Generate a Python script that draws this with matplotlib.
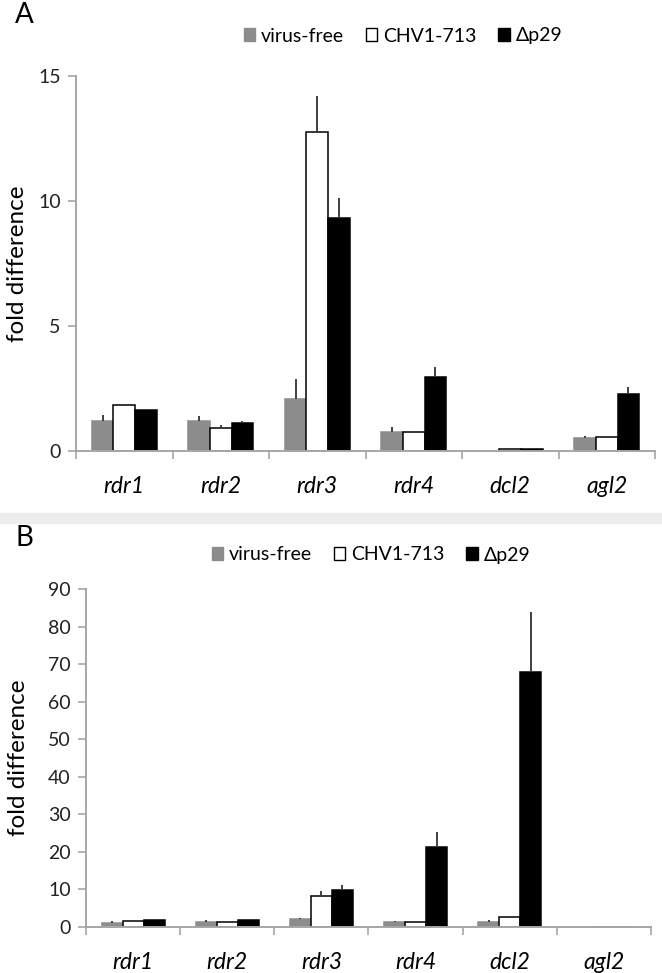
import numpy as np
import matplotlib
matplotlib.use('Agg')
import matplotlib.pyplot as plt
from matplotlib.patches import Patch

plt.rcParams['font.family'] = ['Lato', 'DejaVu Sans']

genes = ['rdr1', 'rdr2', 'rdr3', 'rdr4', 'dcl2', 'agl2']
series = ['virus-free', 'CHV1-713', 'Δp29']

# panel A
a_free = [1.19, 1.2, 2.08, 0.78, 0.0, 0.54]
a_free_err = [0.25, 0.2, 0.82, 0.19, 0.0, 0.08]
a_chv = [1.84, 0.94, 12.74, 0.75, 0.07, 0.55]
a_chv_err = [0.06, 0.12, 1.45, 0.07, 0.01, 0.0]
a_dp29 = [1.64, 1.12, 9.3, 2.98, 0.08, 2.27]
a_dp29_err = [0.06, 0.08, 0.8, 0.4, 0.01, 0.3]

# panel B
b_free = [1.0, 1.3, 1.95, 1.2, 1.3, 0.0]
b_free_err = [0.4, 0.4, 0.3, 0.4, 0.4, 0.0]
b_chv = [1.4, 1.25, 8.2, 1.2, 2.5, 0.0]
b_chv_err = [0.1, 0.1, 1.4, 0.15, 0.3, 0.0]
b_dp29 = [1.8, 1.7, 9.9, 21.3, 67.8, 0.0]
b_dp29_err = [0.1, 0.1, 1.3, 3.9, 16.0, 0.0]

fills = ['#8c8c8c', 'white', 'black']
edges = ['#8c8c8c', 'black', 'black']

fig = plt.figure(figsize=(6.62, 9.73), dpi=100)

# light gray band between the panels
fig.patches.append(plt.Rectangle((0, 1 - 523 / 973), 1, 10 / 973, transform=fig.transFigure,
                                 color='#ededed', zorder=0))


def draw_panel(ax, vals, errs, ylim, yticks):
    x = np.arange(len(genes))
    w = 0.223
    for i in range(3):
        pos = x + (i - 1) * w
        v = np.array(vals[i])
        e = np.array(errs[i])
        ax.bar(pos, v, w, color=fills[i], edgecolor=edges[i], linewidth=1.1, zorder=2)
        ax.errorbar(pos, v, yerr=[np.zeros_like(e), e], fmt='none', ecolor='#404040',
                    elinewidth=1.4, capsize=0, zorder=3)
    ax.set_xlim(-0.5, len(genes) - 0.5)
    ax.set_ylim(*ylim)
    ax.set_yticks(yticks)
    ax.set_xticks(np.arange(len(genes) + 1) - 0.5)
    ax.set_xticklabels([])
    ax.set_xticks(x, minor=True)
    ax.set_xticklabels(genes, minor=True, style='italic', fontsize=16.5)
    ax.tick_params(axis='x', which='minor', length=0, pad=18)
    ax.tick_params(axis='x', which='major', length=6, color='#a6a6a6', width=1.2)
    ax.tick_params(axis='y', length=6, color='#a6a6a6', width=1.2, labelsize=14, pad=5)
    for s in ['top', 'right']:
        ax.spines[s].set_visible(False)
    for s in ['left', 'bottom']:
        ax.spines[s].set_color('#a6a6a6')
        ax.spines[s].set_linewidth(1.4)
    ax.set_ylabel('fold difference', fontsize=17.5)
    for t in ax.get_yticklabels():
        t.set_color('#222222')


axA = fig.add_axes([76 / 662, 1 - 451 / 973, (655 - 76) / 662, (451 - 76) / 973])
draw_panel(axA, [a_free, a_chv, a_dp29], [a_free_err, a_chv_err, a_dp29_err], (0, 15), [0, 5, 10, 15])
axA.yaxis.set_label_coords(-0.083, 0.5)

axB = fig.add_axes([86 / 662, 1 - 926.7 / 973, (651 - 86) / 662, (926.7 - 589) / 973])
draw_panel(axB, [b_free, b_chv, b_dp29], [b_free_err, b_chv_err, b_dp29_err], (0, 90), list(range(0, 91, 10)))
axB.yaxis.set_label_coords(-0.1, 0.5)

handles = [Patch(facecolor=fills[i], edgecolor=edges[i], linewidth=1.0) for i in range(3)]
leg_kw = dict(loc='center', ncol=3, frameon=False, fontsize=14, handlelength=0.6,
              handleheight=0.6, handletextpad=0.3, columnspacing=1.1)
fig.legend(handles, series, bbox_to_anchor=(403 / 662, 1 - 36 / 973), **leg_kw)
fig.legend(handles, series, bbox_to_anchor=(371 / 662, 1 - 555 / 973), **leg_kw)

fig.text(15 / 662, 1 - 15 / 973, 'A', fontsize=20, va='center', ha='left')
fig.text(15 / 662, 1 - 538 / 973, 'B', fontsize=20, va='center', ha='left')

fig.savefig('out.png', dpi=100)
